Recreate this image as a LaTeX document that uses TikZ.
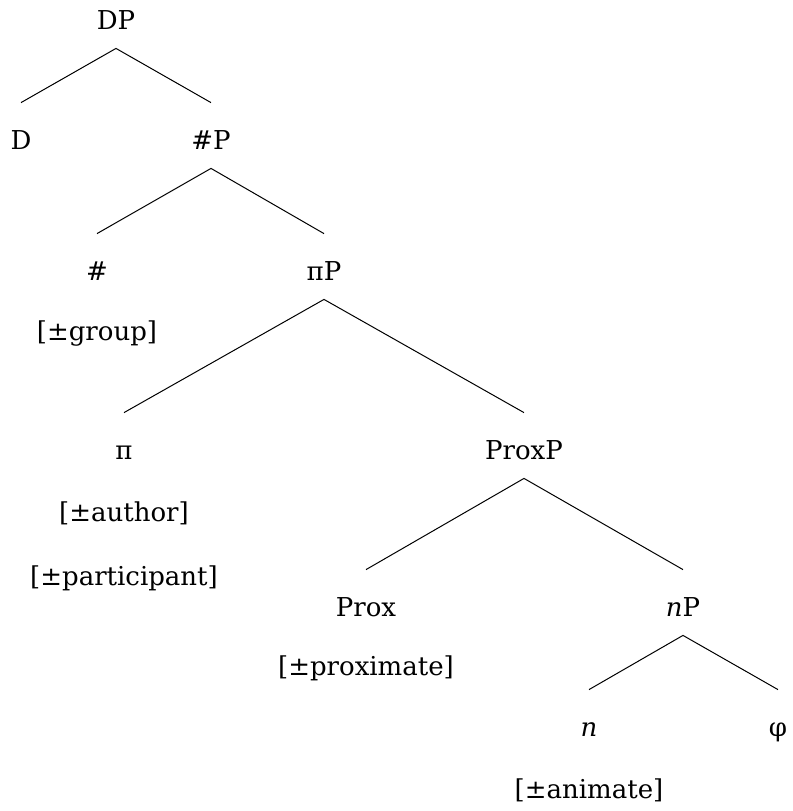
\documentclass[tikz,border=0pt]{standalone}
\usepackage{fontspec}
\setmainfont{DejaVu Serif}
\usepackage{tikz}
\usetikzlibrary{positioning}

\begin{document}
\begin{tikzpicture}[on grid, node distance=60pt,
    word/.style={inner xsep=1pt, inner ysep=3pt, text height=20pt, text depth=6.5pt,
      font=\fontsize{13}{15}\selectfont},
    branch/.style={line width=0.5pt}]

  \useasboundingbox (0,0) rectangle (396.5pt,-405.5pt);

  \node[word] (DP) at (58pt,-7.75pt) {DP};
  \node[word] (D) [below left=60pt and 47.5pt of DP] {D};
  \node[word] (numP) [below right=60pt and 47.5pt of DP] {\#P};

  \node[word] (num) [below left=65.5pt and 57pt of numP] {\#};
  \node[word] (group) [below=30pt of num] {[±group]};
  \node[word] (piP) [below right=65.5pt and 56.5pt of numP] {πP};

  \node[word] (pi) [below left=89.5pt and 100pt of piP] {π};
  \node[word] (author) [below=31pt of pi] {[±author]};
  \node[word] (participant) [below=32pt of author] {[±participant]};
  \node[word] (ProxP) [below right=89.5pt and 100pt of piP] {ProxP};

  \node[word] (Prox) [below left=78.5pt and 79pt of ProxP] {Prox};
  \node[word] (proximate) [below=29.5pt of Prox] {[±proximate]};
  \node[word] (nP) [below right=78.5pt and 79.5pt of ProxP] {\textit{n}P};

  \node[word] (n) [below left=60pt and 47pt of nP] {\textit{n}};
  \node[word] (animate) [below=31pt of n] {[±animate]};
  \node[word] (phi) [below right=60pt and 47.5pt of nP] {φ};

  \path[branch]
    (DP.south) edge (D.north)
    (DP.south) edge (numP.north)

    (numP.south) edge (num.north)
    (numP.south) edge (piP.north)

    (piP.south) edge (pi.north)
    (piP.south) edge (ProxP.north)

    (ProxP.south) edge (Prox.north)
    (ProxP.south) edge (nP.north)

    (nP.south) edge (n.north)
    (nP.south) edge (phi.north);

\end{tikzpicture}
\end{document}
